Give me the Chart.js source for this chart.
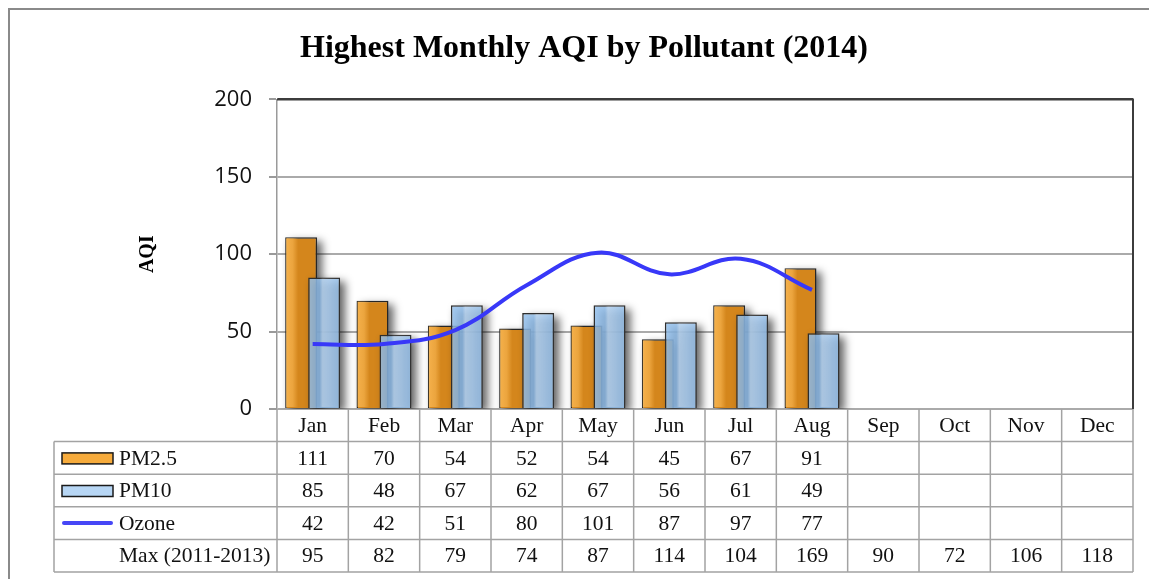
<!DOCTYPE html>
<html>
<head>
<meta charset="utf-8">
<script src="https://cdn.jsdelivr.net/npm/chart.js@4.4.1/dist/chart.umd.min.js"></script>
<style>
  html, body { margin: 0; padding: 0; background: #fff; }
  canvas { display: block; }
</style>
</head>
<body>
<canvas id="aqiChart" width="1149" height="579"></canvas>
<script>
// dados do grafico
const meses = ['Jan', 'Feb', 'Mar', 'Apr', 'May', 'Jun', 'Jul', 'Aug', 'Sep', 'Oct', 'Nov', 'Dec'];
const pm25 = [111, 70, 54, 52, 54, 45, 67, 91];
const pm10 = [85, 48, 67, 62, 67, 56, 61, 49];
const ozone = [42, 42, 51, 80, 101, 87, 97, 77];
const maxAnterior = [95, 82, 79, 74, 87, 114, 104, 169, 90, 72, 106, 118];
const yTicks = [0, 50, 100, 150, 200];

const serif = '"Liberation Serif", "Times New Roman", serif';
const corLinha = '#a3a3a3';

// desenha uma serie de barras com sombra e brilho
function desenharBarras(chart, idx) {
    const ctx = chart.ctx;
    const meta = chart.getDatasetMeta(idx);
    const area = chart.chartArea;

    // sombra desfocada atras de cada barra
    ctx.save();
    ctx.beginPath();
    ctx.rect(area.left, area.top, area.right - area.left + 20, area.bottom - area.top);
    ctx.clip();
    ctx.filter = 'blur(4px)';
    ctx.fillStyle = 'rgba(0,0,0,0.6)';
    meta.data.forEach(el => {
        const { x, y, base, width } = el.getProps(['x', 'y', 'base', 'width'], true);
        if (isNaN(y)) return;
        ctx.fillRect(x - width / 2 + 5, y + 4, width, base - y);
    });
    ctx.restore();

    meta.controller.draw();

    const laranja = idx === 0;
    meta.data.forEach(el => {
        const { x, y, base, width } = el.getProps(['x', 'y', 'base', 'width'], true);
        if (isNaN(y)) return;
        const l = x - width / 2 + 1, r = x + width / 2 - 1;
        const g = ctx.createLinearGradient(l, 0, r, 0);
        if (laranja) {
            g.addColorStop(0, 'rgba(255,190,90,0.75)');
            g.addColorStop(0.22, 'rgba(255,190,90,0.55)');
            g.addColorStop(0.4, 'rgba(255,190,90,0)');
            g.addColorStop(1, 'rgba(255,190,90,0)');
        } else {
            g.addColorStop(0, 'rgba(255,255,255,0)');
            g.addColorStop(0.35, 'rgba(255,255,255,0)');
            g.addColorStop(0.45, 'rgba(255,255,255,0.3)');
            g.addColorStop(1, 'rgba(255,255,255,0.05)');
        }
        ctx.fillStyle = g;
        ctx.fillRect(l, y + 1, r - l, base - y - 2);
    });
}

// PM2.5 fica atras, PM10 na frente
const sombraBarras = {
    id: 'sombraBarras',
    beforeDatasetsDraw(chart) {
        desenharBarras(chart, 0);
    },
    beforeDatasetDraw(chart, args) {
        if (args.index === 0) return false;
        if (args.index === 1) {
            desenharBarras(chart, 1);
            return false;
        }
    }
};

// moldura, borda do grafico e tabela de dados
const tabelaDados = {
    id: 'tabelaDados',
    beforeDraw(chart) {
        const ctx = chart.ctx;
        ctx.save();
        ctx.strokeStyle = '#8a8a8a';
        ctx.lineWidth = 2;
        ctx.strokeRect(9, 9, 1170, 600);
        ctx.restore();
    },
    afterDraw(chart) {
        const ctx = chart.ctx;
        const area = chart.chartArea;
        const xs = chart.scales.x;
        const colW = (area.right - area.left) / meses.length;
        const esq = 54;
        const rowH = 32.6;
        const topo = area.bottom;
        const linhas = [0, 1, 2, 3, 4, 5].map(i => topo + i * rowH);

        ctx.save();
        // borda direita e superior escura
        ctx.strokeStyle = '#3c3c3c';
        ctx.lineWidth = 2;
        ctx.beginPath();
        ctx.moveTo(area.left, area.top);
        ctx.lineTo(area.right, area.top);
        ctx.lineTo(area.right, area.bottom);
        ctx.stroke();

        ctx.strokeStyle = corLinha;
        ctx.lineWidth = 1.5;
        ctx.beginPath();
        for (let i = 1; i < linhas.length; i++) {
            ctx.moveTo(esq, linhas[i]);
            ctx.lineTo(area.right, linhas[i]);
        }
        for (let i = 0; i <= meses.length; i++) {
            const x = area.left + i * colW;
            ctx.moveTo(x, topo);
            ctx.lineTo(x, linhas[5]);
        }
        ctx.moveTo(esq, linhas[1]);
        ctx.lineTo(esq, linhas[5]);
        ctx.stroke();

        ctx.fillStyle = '#111';
        ctx.font = '21.5px ' + serif;
        ctx.textAlign = 'center';
        ctx.textBaseline = 'middle';
        const meio = i => (linhas[i] + linhas[i + 1]) / 2 + 1;
        const series = [pm25, pm10, ozone, maxAnterior];
        meses.forEach((m, i) => {
            const cx = xs.getPixelForValue(i);
            ctx.fillText(m, cx, meio(0));
            series.forEach((s, r) => {
                if (s[i] !== undefined) ctx.fillText(String(s[i]), cx, meio(r + 1));
            });
        });

        // legenda
        ctx.textAlign = 'left';
        const nomes = ['PM2.5', 'PM10', 'Ozone', 'Max (2011-2013)'];
        nomes.forEach((n, r) => ctx.fillText(n, 119, meio(r + 1)));

        ctx.lineWidth = 1.5;
        ctx.strokeStyle = '#1a1a1a';
        ctx.fillStyle = '#f6ab3c';
        ctx.fillRect(62, meio(1) - 6, 51, 11);
        ctx.strokeRect(62, meio(1) - 6, 51, 11);
        ctx.fillStyle = '#b7d6f4';
        ctx.fillRect(62, meio(2) - 6, 51, 11);
        ctx.strokeRect(62, meio(2) - 6, 51, 11);
        ctx.strokeStyle = '#4646f6';
        ctx.lineWidth = 4;
        ctx.lineCap = 'round';
        ctx.beginPath();
        ctx.moveTo(64, meio(3) - 1);
        ctx.lineTo(111, meio(3) - 1);
        ctx.stroke();
        ctx.restore();
    }
};

new Chart(document.getElementById('aqiChart'), {
    type: 'bar',
    data: {
        labels: meses,
        datasets: [
            {
                label: 'PM2.5',
                data: pm25,
                backgroundColor: '#d4861c',
                borderColor: '#262626',
                borderWidth: 1.5,
                categoryPercentage: 0.645,
                barPercentage: 1.39,
                order: 1
            },
            {
                label: 'PM10',
                data: pm10,
                backgroundColor: 'rgba(145,192,238,0.82)',
                borderColor: '#2e2e2e',
                borderWidth: 1.5,
                categoryPercentage: 0.645,
                barPercentage: 1.39,
                order: 2
            },
            {
                type: 'line',
                label: 'Ozone',
                data: ozone,
                borderColor: '#3838f8',
                borderWidth: 4,
                pointRadius: 0,
                tension: 0.4,
                fill: false,
                order: 0
            }
        ]
    },
    options: {
        responsive: false,
        animation: false,
        devicePixelRatio: 1,
        layout: { padding: { left: 35, right: 16, top: 0, bottom: 170 } },
        plugins: {
            legend: { display: false },
            tooltip: { enabled: false },
            title: {
                display: true,
                text: 'Highest Monthly AQI by Pollutant (2014)',
                color: '#000',
                font: { family: serif, size: 32, weight: 'bold' },
                padding: { top: 30, bottom: 31 }
            }
        },
        scales: {
            x: { display: false },
            y: {
                min: yTicks[0],
                max: yTicks[yTicks.length - 1],
                afterFit: scale => { scale.width = 242; },
                afterBuildTicks: scale => { scale.ticks = yTicks.map(v => ({ value: v })); },
                ticks: {
                    color: '#111',
                    padding: 17,
                    font: { family: '"Open Sans", sans-serif', size: 22 }
                },
                grid: {
                    color: c => (c.tick && c.tick.value === 200 ? '#3c3c3c' : '#aaaaaa'),
                    tickColor: '#9a9a9a',
                    lineWidth: 2,
                    tickLength: 8
                },
                border: { color: '#9a9a9a', width: 1.5 },
                title: {
                    display: true,
                    text: 'AQI',
                    color: '#000',
                    font: { family: serif, size: 20, weight: 'bold' },
                    padding: { top: 101, bottom: 0 }
                }
            }
        }
    },
    plugins: [sombraBarras, tabelaDados]
});
</script>
</body>
</html>
